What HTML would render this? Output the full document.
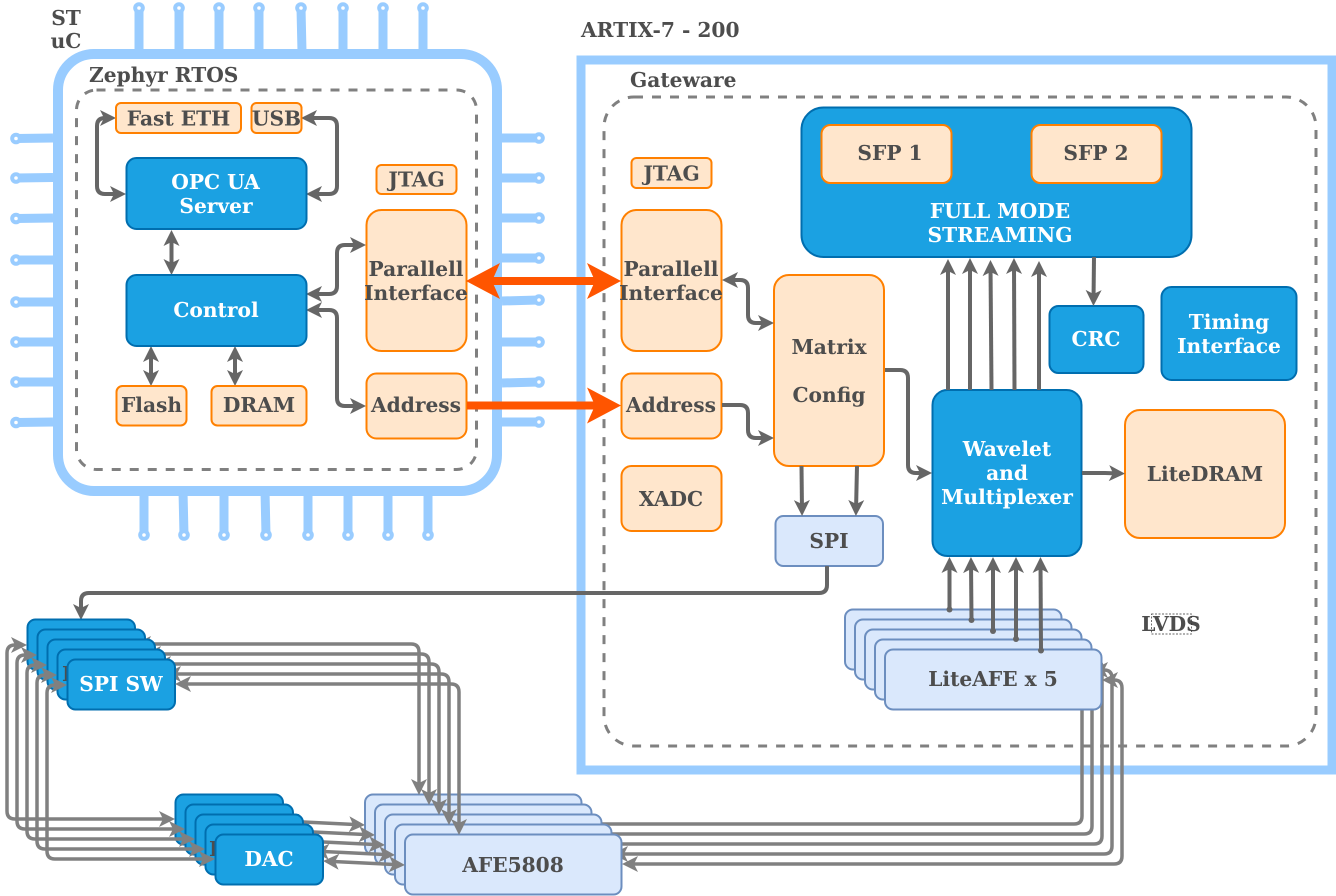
<!DOCTYPE html>
<html lang="en">
<head>
<meta charset="utf-8">
<title>ARTIX-7 diagram</title>
<style>
html,body{margin:0;padding:0;background:#fff;width:1336px;height:896px;overflow:hidden}
svg{display:block}
text{font-family:"DejaVu Serif","Liberation Serif",serif;font-weight:bold;font-size:20.2px;fill:#4d4d4d;text-anchor:middle;transform:translateY(0.8px)}
text.w{fill:#fff}
text.l{text-anchor:start}
.o rect,rect.o{fill:#ffe6cc;stroke:#ff8000;stroke-width:2}
rect.b{fill:#1ba1e2;stroke:#006eaf;stroke-width:2}
rect.v{fill:#dae8fc;stroke:#6c8ebf;stroke-width:2}
.pin{stroke:#99ccff;stroke-width:9;fill:none}
.dot{fill:#fff;stroke:#99ccff;stroke-width:4}
.c{fill:none;stroke:#666;stroke-width:4;marker-end:url(#a)}
.cb{fill:none;stroke:#666;stroke-width:4;marker-end:url(#a);marker-start:url(#a)}
.g{fill:none;stroke:#808080;stroke-width:3.5;marker-end:url(#ag);marker-start:url(#ag)}
.d{fill:none;stroke:#808080;stroke-width:3;stroke-dasharray:9 9}
</style>
</head>
<body>
<svg width="1336" height="896" viewBox="0 0 1336 896" xmlns="http://www.w3.org/2000/svg">
<defs>
<marker id="a" markerUnits="userSpaceOnUse" markerWidth="30" markerHeight="30" viewBox="0 0 30 30" refX="20" refY="15" orient="auto-start-reverse"><polygon points="25,15 9,7 13,15 9,23" fill="#666"/></marker>
<marker id="ag" markerUnits="userSpaceOnUse" markerWidth="30" markerHeight="30" viewBox="0 0 30 30" refX="20" refY="15" orient="auto-start-reverse"><polygon points="25,15 9,7 13,15 9,23" fill="#808080"/></marker>
<marker id="ao" markerUnits="userSpaceOnUse" markerWidth="50" markerHeight="50" viewBox="0 0 50 50" refX="35" refY="25" orient="auto-start-reverse"><polygon points="45,25 11,7 19,25 11,43" fill="#ff5500"/></marker>
</defs>

<!-- pins -->
<path class="pin" d="M139,8V52M179,8V52M219,8V52M259,8V52M301,8L302,52M343,8V52M383,8V52M423,8V52"/>
<path class="pin" d="M144,535V491M184,535L183,491M224,535V491M266,535L265,491M308,535V491M348,535V491M388,535V491M428,535V491"/>
<path class="pin" d="M16,138.500L53,138M16,178L53,177.500M16,218.500L53,218M16,260L53,260M16,302L53,302M16,342L53,342M16,382L53,382M16,422.500L53,422"/>
<path class="pin" d="M539,138H502M539,178H502M539,218H502M539,258H502M539,300L502,301M539,342H502M539,382L502,383M539,422H502"/>
<g class="dot">
<circle cx="139" cy="8" r="3.800"/><circle cx="179" cy="8" r="3.800"/><circle cx="219" cy="8" r="3.800"/><circle cx="259" cy="8" r="3.800"/><circle cx="301" cy="8" r="3.800"/><circle cx="343" cy="8" r="3.800"/><circle cx="383" cy="8" r="3.800"/><circle cx="423" cy="8" r="3.800"/>
<circle cx="144" cy="535" r="3.800"/><circle cx="184" cy="535" r="3.800"/><circle cx="224" cy="535" r="3.800"/><circle cx="266" cy="535" r="3.800"/><circle cx="308" cy="535" r="3.800"/><circle cx="348" cy="535" r="3.800"/><circle cx="388" cy="535" r="3.800"/><circle cx="428" cy="535" r="3.800"/>
<circle cx="16" cy="138.500" r="3.800"/><circle cx="16" cy="178" r="3.800"/><circle cx="16" cy="218.500" r="3.800"/><circle cx="16" cy="260" r="3.800"/><circle cx="16" cy="302" r="3.800"/><circle cx="16" cy="342" r="3.800"/><circle cx="16" cy="382" r="3.800"/><circle cx="16" cy="422.500" r="3.800"/>
<circle cx="539" cy="138" r="3.800"/><circle cx="539" cy="178" r="3.800"/><circle cx="539" cy="218" r="3.800"/><circle cx="539" cy="258" r="3.800"/><circle cx="539" cy="300" r="3.800"/><circle cx="539" cy="342" r="3.800"/><circle cx="539" cy="382" r="3.800"/><circle cx="539" cy="422" r="3.800"/>
</g>

<!-- containers -->
<rect x="58" y="54" width="439" height="437" rx="36" fill="#fff" stroke="#99ccff" stroke-width="10"/>
<rect x="76.500" y="90" width="400" height="379.500" rx="20" class="d"/>
<rect x="581" y="60" width="751" height="710" fill="#fff" stroke="#99ccff" stroke-width="9"/>
<rect x="604" y="97" width="712" height="649" rx="30" class="d"/>

<text x="66" y="24">ST</text>
<text x="66" y="47">uC</text>
<text class="l" x="89" y="81">Zephyr RTOS</text>
<text class="l" x="581" y="36">ARTIX-7 - 200</text>
<text class="l" x="630" y="86">Gateware</text>

<!-- left connectors -->
<path class="cb" d="M111,118H105Q97,118 97,126V186Q97,194 105,194H121"/>
<path class="cb" d="M306,118H329Q337,118 337,126V186Q337,194 329,194H311"/>
<path class="cb" d="M171.500,235V270"/>
<path class="cb" d="M151,351V381"/>
<path class="cb" d="M235,351V381"/>
<path class="cb" d="M311,294H329Q337,294 337,286V253Q337,245 345,245H361"/>
<path class="cb" d="M311,310H329Q337,310 337,318V398Q337,406 345,406H361"/>

<!-- left boxes -->
<rect class="o" x="116" y="103" width="125" height="30" rx="5"/><text x="178.500" y="124.500">Fast ETH</text>
<rect class="o" x="251.500" y="103" width="50" height="30" rx="5"/><text x="276.500" y="124.500">USB</text>
<rect class="b" x="126.500" y="158" width="180" height="71" rx="10"/><text class="w" x="215.500" y="188">OPC UA</text><text class="w" x="216" y="212">Server</text>
<rect class="b" x="126.500" y="275" width="180" height="71" rx="10"/><text class="w" x="216" y="316">Control</text>
<rect class="o" x="116.500" y="386" width="70" height="39.500" rx="6"/><text x="151.500" y="411">Flash</text>
<rect class="o" x="211.500" y="386" width="95" height="39.500" rx="6"/><text x="259" y="411">DRAM</text>
<rect class="o" x="376.500" y="165" width="80" height="29" rx="5"/><text x="416.500" y="185.500">JTAG</text>
<rect class="o" x="366.500" y="210" width="100" height="141" rx="15"/><text x="416" y="275">Parallell</text><text x="416" y="299">Interface</text>
<rect class="o" x="366.500" y="373.500" width="100" height="65" rx="10"/><text x="416" y="411">Address</text>

<!-- right boxes -->
<rect class="o" x="631.500" y="158" width="80" height="30" rx="5"/><text x="671.500" y="179.500">JTAG</text>
<rect class="o" x="621.500" y="210" width="100" height="141" rx="15"/><text x="671" y="275">Parallell</text><text x="671" y="299">Interface</text>
<rect class="o" x="621.500" y="373.500" width="100" height="65" rx="10"/><text x="671" y="411">Address</text>
<rect class="o" x="621.500" y="466" width="100" height="65" rx="10"/><text x="671" y="505">XADC</text>
<rect class="b" x="801.500" y="107.500" width="390" height="149.500" rx="22"/>
<rect class="o" x="821.500" y="125" width="130" height="58" rx="9"/><text x="890" y="159">SFP 1</text>
<rect class="o" x="1031.500" y="125" width="130" height="58" rx="9"/><text x="1096" y="159">SFP 2</text>
<text class="w" x="1000" y="217">FULL MODE</text><text class="w" x="1000" y="241">STREAMING</text>
<rect class="o" x="774" y="275" width="110" height="191" rx="15"/><text x="829" y="353">Matrix</text><text x="829" y="401">Config</text>
<rect class="b" x="932.500" y="390" width="149" height="166" rx="15"/><text class="w" x="1007" y="455">Wavelet</text><text class="w" x="1007" y="479">and</text><text class="w" x="1007" y="503">Multiplexer</text>
<rect class="b" x="1049.500" y="306" width="94" height="67" rx="9"/><text class="w" x="1096" y="345">CRC</text>
<rect class="b" x="1161.500" y="287" width="135" height="93" rx="10"/><text class="w" x="1229" y="328">Timing</text><text class="w" x="1229" y="352">Interface</text>
<rect class="o" x="1125" y="410" width="160" height="128" rx="15"/><text x="1205" y="480">LiteDRAM</text>
<rect class="v" x="775.500" y="516" width="107.500" height="50" rx="8"/><text x="829" y="547">SPI</text>

<!-- right connectors -->
<path class="c" d="M827,566V585Q827,593 819,593H89Q81,593 81,601V615"/>
<path class="cb" d="M727,280H740Q748,280 748,288V315Q748,323 756,323H769"/>
<path class="c" d="M722,405H740Q748,405 748,413V430Q748,438 756,438H769"/>
<path class="c" d="M885,370H900Q908,370 908,378V465Q908,473 916,473H927"/>
<path class="c" d="M801.500,466L802,511"/>
<path class="c" d="M857,466L856,511"/>
<path class="c" d="M948,390V264"/>
<path class="c" d="M970,390V263"/>
<path class="c" d="M991.500,390L990.500,265"/>
<path class="c" d="M1014.500,390L1014,263"/>
<path class="c" d="M1039,390V266"/>
<path class="c" d="M1094,257L1093.500,301"/>
<path class="c" d="M1082,473H1105L1120,473.500"/>
<text x="1171" y="630">LVDS</text>
<rect x="1151.500" y="614" width="40" height="20" fill="none" stroke="#333" stroke-width="0.7" stroke-dasharray="2 1.500"/>

<!-- orange arrows -->
<path d="M476,281H611" fill="none" stroke="#ff5500" stroke-width="8" marker-start="url(#ao)" marker-end="url(#ao)"/>
<path d="M467,405.500H611" fill="none" stroke="#ff5500" stroke-width="8" marker-end="url(#ao)"/>

<!-- stack group 1 -->
<g>
<rect class="b" x="27.500" y="619.500" width="107.500" height="50" rx="8"/>
<rect class="b" x="175.500" y="794.500" width="107.500" height="50" rx="8"/>
<rect class="v" x="365" y="794.500" width="216.500" height="60" rx="8"/>
<rect class="v" x="845" y="609.500" width="216.500" height="60" rx="8"/>
<path class="g" d="M22,645H15Q7,645 7,653V811Q7,819 15,819H170"/>
<path class="g" d="M140,644H411Q419,644 419,652V790"/>
<path class="g" d="M288,821.200L360,824.800"/>
<path class="g" d="M587,824H1074Q1082,824 1082,816V648Q1082,640 1074,640H1067"/>
</g>
<!-- stack group 2 -->
<g transform="translate(10,10)">
<rect class="b" x="27.500" y="619.500" width="107.500" height="50" rx="8"/>
<rect class="b" x="175.500" y="794.500" width="107.500" height="50" rx="8"/>
<rect class="v" x="365" y="794.500" width="216.500" height="60" rx="8"/>
<rect class="v" x="845" y="609.500" width="216.500" height="60" rx="8"/>
<path class="g" d="M22,645H15Q7,645 7,653V811Q7,819 15,819H170"/>
<path class="g" d="M140,644H411Q419,644 419,652V790"/>
<path class="g" d="M288,821.200L360,824.800"/>
<path class="g" d="M587,824H1074Q1082,824 1082,816V648Q1082,640 1074,640H1067"/>
</g>
<!-- stack group 3 -->
<g transform="translate(20,20)">
<rect class="b" x="27.500" y="619.500" width="107.500" height="50" rx="8"/>
<rect class="b" x="175.500" y="794.500" width="107.500" height="50" rx="8"/>
<rect class="v" x="365" y="794.500" width="216.500" height="60" rx="8"/>
<rect class="v" x="845" y="609.500" width="216.500" height="60" rx="8"/>
<path class="g" d="M22,645H15Q7,645 7,653V811Q7,819 15,819H170"/>
<path class="g" d="M140,644H411Q419,644 419,652V790"/>
<path class="g" d="M288,821.200L360,824.800"/>
<path class="g" d="M587,824H1074Q1082,824 1082,816V648Q1082,640 1074,640H1067"/>
</g>
<!-- stack group 4 -->
<g transform="translate(30,30)">
<rect class="b" x="27.500" y="619.500" width="107.500" height="50" rx="8"/>
<text x="32" y="650" style="text-anchor:start">D</text>
<rect class="b" x="175.500" y="794.500" width="107.500" height="50" rx="8"/>
<text x="179" y="825" style="text-anchor:start">D</text>
<rect class="v" x="365" y="794.500" width="216.500" height="60" rx="8"/>
<rect class="v" x="845" y="609.500" width="216.500" height="60" rx="8"/>
<path class="g" d="M22,645H15Q7,645 7,653V811Q7,819 15,819H170"/>
<path class="g" d="M140,644H411Q419,644 419,652V790"/>
<path class="g" d="M288,821.200L360,824.800"/>
<path class="g" d="M587,824H1074Q1082,824 1082,816V648Q1082,640 1074,640H1067"/>
</g>
<!-- stack group 5 -->
<g transform="translate(40,40)">
<rect class="b" x="27.500" y="619.500" width="107.500" height="50" rx="8"/>
<text class="w" x="81" y="650">SPI SW</text>
<rect class="b" x="175.500" y="794.500" width="107.500" height="50" rx="8"/>
<text class="w" x="229" y="825">DAC</text>
<rect class="v" x="365" y="794.500" width="216.500" height="60" rx="8"/>
<text x="473" y="831">AFE5808</text>
<rect class="v" x="845" y="609.500" width="216.500" height="60" rx="8"/>
<text x="953" y="645">LiteAFE x 5</text>
<path class="g" d="M22,645H15Q7,645 7,653V811Q7,819 15,819H170"/>
<path class="g" d="M140,644H411Q419,644 419,652V790"/>
<path class="g" d="M288,821.200L360,824.800"/>
<path class="g" d="M587,824H1074Q1082,824 1082,816V648Q1082,640 1074,640H1067"/>
</g>

<!-- LiteAFE to wavelet -->
<path class="c" d="M949.500,609V562"/>
<path class="c" d="M971.500,620L971,562"/>
<path class="c" d="M993,631V562"/>
<path class="c" d="M1016,639V562"/>
<path class="c" d="M1041,650L1040.500,562"/>
<g fill="#666">
<circle cx="949.500" cy="609.500" r="3"/><circle cx="971.500" cy="620" r="3"/><circle cx="993" cy="631" r="3"/><circle cx="1016" cy="639" r="3"/><circle cx="1041" cy="650.500" r="3"/>
</g>
</svg>
</body>
</html>
